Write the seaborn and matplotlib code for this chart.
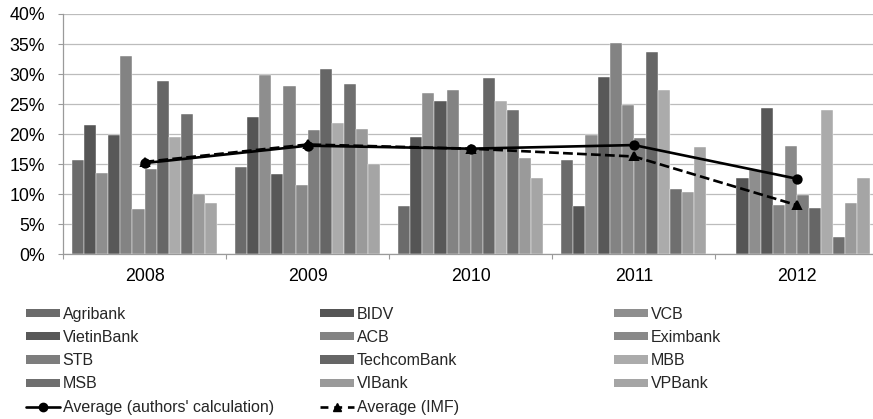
import numpy as np
import pandas as pd
import matplotlib
matplotlib.use("Agg")
import matplotlib.pyplot as plt
from matplotlib.patches import Patch
from matplotlib.lines import Line2D
from matplotlib.ticker import PercentFormatter, FixedLocator
import seaborn as sns

# ---- data -------------------------------------------------------------
years = ["2008", "2009", "2010", "2011", "2012"]
banks = ["Agribank", "BIDV", "VCB", "VietinBank", "ACB", "Eximbank",
         "STB", "TechcomBank", "MBB", "MSB", "VIBank", "VPBank"]

# bank values per year (percent), same order as `banks`
y2008 = [15.8, 21.5, 13.5, 19.8, 33.0, 7.6, 14.3, 28.8, 19.5, 23.3, 10.1, 8.5]
y2009 = [14.6, 22.9, 29.9, 13.4, 28.1, 11.5, 20.7, 30.8, 21.9, 28.3, 20.8, 15.1]
y2010 = [8.0, 19.6, 26.8, 25.6, 27.3, 17.5, 17.5, 29.3, 25.6, 24.1, 16.0, 12.8]
y2011 = [15.7, 8.0, 19.9, 29.5, 35.2, 24.9, 19.3, 33.7, 27.3, 10.9, 10.4, 17.8]
y2012 = [np.nan, 12.8, 14.1, 24.3, 8.3, 18.1, 9.9, 7.8, 24.1, 2.9, 8.5, 12.8]

avg_authors = [15.2, 18.1, 17.6, 18.2, 12.6]
avg_imf = [15.4, 18.3, 17.6, 16.3, 8.2]

bank_colors = ["#6b6b6b", "#555555", "#8e8e8e", "#585858", "#838383", "#898989",
               "#7d7d7d", "#666666", "#ababab", "#6f6f6f", "#9a9a9a", "#a5a5a5"]

# ---- tidy frames ------------------------------------------------------
bars = pd.DataFrame(
    [(yr, bk, v) for yr, vals in zip(years, [y2008, y2009, y2010, y2011, y2012])
     for bk, v in zip(banks, vals)],
    columns=["year", "bank", "value"],
)
lines = pd.DataFrame({
    "year": years * 2,
    "series": ["Average (authors' calculation)"] * 5 + ["Average (IMF)"] * 5,
    "value": avg_authors + avg_imf,
})

# ---- figure -----------------------------------------------------------
sns.set_theme(style="white")
plt.rcParams["font.family"] = ["Liberation Sans", "DejaVu Sans"]

fig = plt.figure(figsize=(8.73, 4.19), dpi=100)
ax = fig.add_axes([63 / 873, (419 - 254.5) / 419, 815.5 / 873, 240.5 / 419])

ax.yaxis.grid(True, color="#bcbcbc", linewidth=0.9, zorder=0)
ax.set_axisbelow(True)

sns.barplot(data=bars, x="year", y="value", hue="bank", order=years,
            hue_order=banks, palette=bank_colors, width=0.89, errorbar=None,
            edgecolor="white", linewidth=0.3, legend=False, ax=ax, zorder=2)

sns.pointplot(data=lines, x="year", y="value", hue="series", order=years,
              palette=["black", "black"], markers=["o", "^"],
              linestyles=["-", "--"], markersize=6, linewidth=1.9,
              errorbar=None, legend=False, ax=ax)
for coll in ax.collections:
    coll.set_zorder(5)
for ln in ax.lines:
    ln.set_zorder(4)

# ---- axes styling -----------------------------------------------------
ax.set_xlim(-0.5, 4.5)
ax.set_ylim(0, 40)
ax.yaxis.set_major_locator(FixedLocator(np.arange(0, 41, 5)))
ax.yaxis.set_major_formatter(PercentFormatter(decimals=0))
ax.xaxis.set_minor_locator(FixedLocator(np.arange(-0.5, 5, 1.0)))
ax.set_xlabel("")
ax.set_ylabel("")

for side in ["top", "right"]:
    ax.spines[side].set_visible(False)
for side in ["left", "bottom"]:
    ax.spines[side].set_color("#9a9a9a")
    ax.spines[side].set_linewidth(0.9)

ax.tick_params(axis="y", which="major", length=3.5, width=0.8, color="#9a9a9a",
               pad=9.5, labelsize=12.8, labelcolor="black", left=True)
ax.tick_params(axis="x", which="major", length=0, pad=10, labelsize=12.8,
               labelcolor="black")
ax.tick_params(axis="x", which="minor", length=3.5, width=0.8, color="#9a9a9a",
               bottom=True, direction="out")

# ---- legend: three columns ---------------------------------------------
patch_handles = {b: Patch(facecolor=c, edgecolor="none") for b, c in zip(banks, bank_colors)}
line_authors = Line2D([], [], color="black", linestyle="-", linewidth=1.9,
                      marker="o", markersize=6)
line_imf = Line2D([], [], color="black", linestyle="--", linewidth=1.9,
                  marker="^", markersize=6, dashes=(3, 2.2))

columns = [
    (26 / 873, ["Agribank", "VietinBank", "STB", "MSB"],
     [line_authors], ["Average (authors' calculation)"]),
    (320 / 873, ["BIDV", "ACB", "TechcomBank", "VIBank"],
     [line_imf], ["Average (IMF)"]),
    (614 / 873, ["VCB", "Eximbank", "MBB", "VPBank"], [], []),
]
legend_kw = dict(loc="upper left", frameon=False, fontsize=11.5, borderpad=0,
                 borderaxespad=0, handletextpad=0.2, labelspacing=0.52,
                 handlelength=2.1, handleheight=0.42)
for x0, names, extra_h, extra_l in columns:
    handles = [patch_handles[n] for n in names] + extra_h
    labels = names + extra_l
    leg = fig.legend(handles, labels, bbox_to_anchor=(x0, 1 - 306.5 / 419),
                     bbox_transform=fig.transFigure, **legend_kw)

fig.savefig("out.png", dpi=100)
